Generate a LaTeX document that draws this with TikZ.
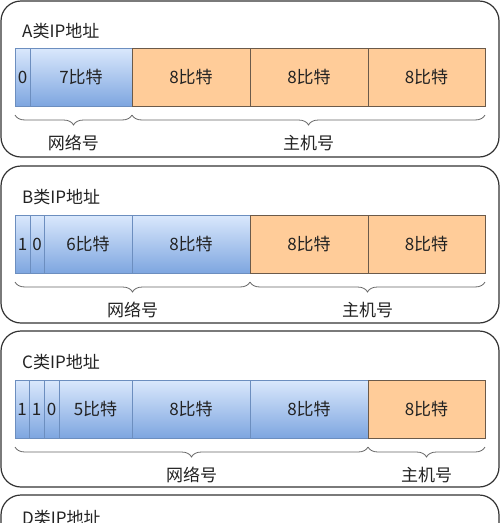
\documentclass[tikz,border=0pt]{standalone}
\usepackage{fontspec}
\setmainfont{Noto Sans CJK SC}
\usetikzlibrary{positioning, decorations.pathreplacing}
\definecolor{blueTop}{HTML}{DAE8FC}
\definecolor{blueBot}{HTML}{7EA6E0}
\definecolor{blueLine}{HTML}{6C8EBF}
\definecolor{orangeFill}{HTML}{FFCC99}
\definecolor{orangeLine}{HTML}{6B5A4A}
\definecolor{panelLine}{HTML}{333333}
\definecolor{braceLine}{HTML}{666666}
\definecolor{txt}{HTML}{222222}

\tikzset{
	panel/.style={draw=panelLine, line width=1.2pt, rounded corners=20pt},
	ttl/.style={anchor=west, inner sep=0pt, text=txt, font=\fontsize{17}{20}\selectfont},
	bits/.style={minimum height=58pt, inner sep=0pt, outer sep=0pt, text=txt, font=\fontsize{17}{20}\selectfont},
	netcell/.style={bits, draw=blueLine, line width=0.8pt, top color=blueTop, bottom color=blueBot},
	hostcell/.style={bits, draw=orangeLine, line width=0.8pt, fill=orangeFill},
	curlyb/.style={decorate, decoration={brace, mirror, amplitude=10pt}, draw=braceLine, line width=0.8pt},
	lbl/.style={inner sep=0pt, text=txt, font=\fontsize{17}{20}\selectfont}
}

\begin{document}
\begin{tikzpicture}[x=1pt, y=-1pt]
	\useasboundingbox (0,0) rectangle (500,523);
	\clip (0,0) rectangle (500,523);

	% A类
	\draw[panel] (1,1) rectangle (499,157);
	\node[ttl] (aTitle) at (22,31) {A类IP地址};
	\node[netcell, minimum width=15pt, anchor=north west] (a0) at (15,48) {0};
	\node[netcell, minimum width=102pt, right=0pt of a0] (a7) {7比特};
	\node[hostcell, minimum width=118pt, right=0pt of a7] (a8a) {8比特};
	\node[hostcell, minimum width=118pt, right=0pt of a8a] (a8b) {8比特};
	\node[hostcell, minimum width=117pt, right=0pt of a8b] (a8c) {8比特};
	\draw[curlyb] ([yshift=-9pt]a0.south west) -- ([yshift=-9pt]a7.south east);
	\draw[curlyb] ([yshift=-9pt]a8a.south west) -- ([yshift=-9pt]a8c.south east);
	\node[lbl] (aNet) at (73.5,143) {网络号};
	\node[lbl] (aHost) at (308.5,143) {主机号};

	% B类
	\draw[panel] (1,166) rectangle (499,323);
	\node[ttl] (bTitle) at (22,197) {B类IP地址};
	\node[netcell, minimum width=15pt, anchor=north west] (b1) at (15,215) {1};
	\node[netcell, minimum width=14pt, right=0pt of b1] (b0) {0};
	\node[netcell, minimum width=88pt, right=0pt of b0] (b6) {6比特};
	\node[netcell, minimum width=118pt, right=0pt of b6] (b8a) {8比特};
	\node[hostcell, minimum width=118pt, right=0pt of b8a] (b8b) {8比特};
	\node[hostcell, minimum width=117pt, right=0pt of b8b] (b8c) {8比特};
	\draw[curlyb] ([yshift=-9pt]b1.south west) -- ([yshift=-9pt]b8a.south east);
	\draw[curlyb] ([yshift=-9pt]b8b.south west) -- ([yshift=-9pt]b8c.south east);
	\node[lbl] (bNet) at (132.5,310) {网络号};
	\node[lbl] (bHost) at (367.5,310) {主机号};

	% C类
	\draw[panel] (1,331) rectangle (499,487);
	\node[ttl] (cTitle) at (22,362) {C类IP地址};
	\node[netcell, minimum width=14pt, anchor=north west] (c1a) at (15,380) {1};
	\node[netcell, minimum width=15pt, right=0pt of c1a] (c1b) {1};
	\node[netcell, minimum width=15pt, right=0pt of c1b] (c0) {0};
	\node[netcell, minimum width=73pt, right=0pt of c0] (c5) {5比特};
	\node[netcell, minimum width=118pt, right=0pt of c5] (c8a) {8比特};
	\node[netcell, minimum width=118pt, right=0pt of c8a] (c8b) {8比特};
	\node[hostcell, minimum width=117pt, right=0pt of c8b] (c8c) {8比特};
	\draw[curlyb] ([yshift=-9pt]c1a.south west) -- ([yshift=-9pt]c8b.south east);
	\draw[curlyb] ([yshift=-9pt]c8c.south west) -- ([yshift=-9pt]c8c.south east);
	\node[lbl] (cNet) at (191.5,475) {网络号};
	\node[lbl] (cHost) at (426.5,475) {主机号};

	% D类 (只露出上沿)
	\draw[panel] (1,495) rectangle (499,660);
	\node[ttl] (dTitle) at (22,518) {D类IP地址};
\end{tikzpicture}
\end{document}
